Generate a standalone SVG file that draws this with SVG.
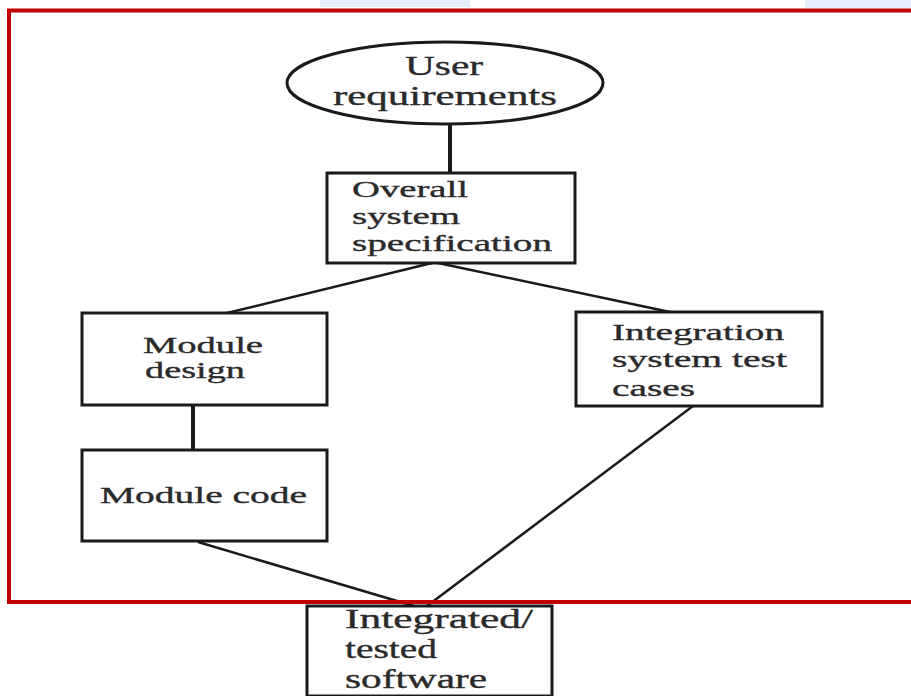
<svg xmlns="http://www.w3.org/2000/svg" width="911" height="696" viewBox="0 0 911 696">
<style>
  .box { fill: #ffffff; stroke: #1a1a1a; stroke-width: 3; }
  .t { font-family: "Liberation Serif", "Times New Roman", serif; fill: #2a2a2a; stroke: #2a2a2a; stroke-width: 0.35; }
  .s24 { font-size: 24px; }
  .s27 { font-size: 27px; }
  .conn { stroke: #1a1a1a; fill: none; }
</style>
<rect x="0" y="0" width="911" height="696" fill="#ffffff"/>
<g id="watermark" fill="#dbe7f9" opacity="0.75">
  <rect x="320" y="0" width="150" height="7"/>
  <rect x="805" y="0" width="106" height="8"/>
</g>
<g id="connectors" class="conn">
  <line x1="450" y1="123" x2="450" y2="173" stroke-width="4"/>
  <line x1="432" y1="263" x2="227" y2="313" stroke-width="2.5"/>
  <line x1="438" y1="263" x2="670" y2="312" stroke-width="2.5"/>
  <line x1="193" y1="405" x2="193" y2="450" stroke-width="4"/>
  <line x1="198" y1="542" x2="414" y2="606" stroke-width="2.5"/>
  <line x1="693" y1="406" x2="427" y2="606" stroke-width="2.5"/>
</g>
<g id="user-requirements">
  <ellipse cx="445" cy="83" rx="158" ry="41" class="box" stroke-width="2.5"/>
  <text class="t s27" x="405" y="75" textLength="78" lengthAdjust="spacingAndGlyphs">User</text>
  <text class="t s27" x="333" y="105" textLength="224" lengthAdjust="spacingAndGlyphs">requirements</text>
</g>
<g id="overall-system-specification">
  <rect x="327" y="173" width="248" height="90" class="box"/>
  <text class="t s24" x="352" y="197" textLength="116" lengthAdjust="spacingAndGlyphs">Overall</text>
  <text class="t s24" x="352" y="224" textLength="108" lengthAdjust="spacingAndGlyphs">system</text>
  <text class="t s24" x="352" y="251" textLength="200" lengthAdjust="spacingAndGlyphs">specification</text>
</g>
<g id="module-design">
  <rect x="82" y="313" width="245" height="92" class="box"/>
  <text class="t s24" x="143" y="353" textLength="120" lengthAdjust="spacingAndGlyphs">Module</text>
  <text class="t s24" x="145" y="378" textLength="100" lengthAdjust="spacingAndGlyphs">design</text>
</g>
<g id="integration-system-test-cases">
  <rect x="576" y="312" width="246" height="94" class="box"/>
  <text class="t s24" x="612" y="340" textLength="172" lengthAdjust="spacingAndGlyphs">Integration</text>
  <text class="t s24" x="612" y="367" textLength="175" lengthAdjust="spacingAndGlyphs">system test</text>
  <text class="t s24" x="612" y="396" textLength="83" lengthAdjust="spacingAndGlyphs">cases</text>
</g>
<g id="module-code">
  <rect x="82" y="450" width="245" height="91" class="box"/>
  <text class="t s24" x="100" y="503" textLength="207" lengthAdjust="spacingAndGlyphs">Module code</text>
</g>
<g id="integrated-tested-software">
  <rect x="307" y="606" width="245" height="90" class="box"/>
  <text class="t s27" x="345" y="628" textLength="188" lengthAdjust="spacingAndGlyphs">Integrated/</text>
  <text class="t s27" x="345" y="658" textLength="92" lengthAdjust="spacingAndGlyphs">tested</text>
  <text class="t s27" x="345" y="688" textLength="142" lengthAdjust="spacingAndGlyphs">software</text>
</g>
<g id="frame">
  <path d="M 915 10.5 H 9 V 602 H 915" fill="none" stroke="#c00000" stroke-width="4"/>
</g>
</svg>
